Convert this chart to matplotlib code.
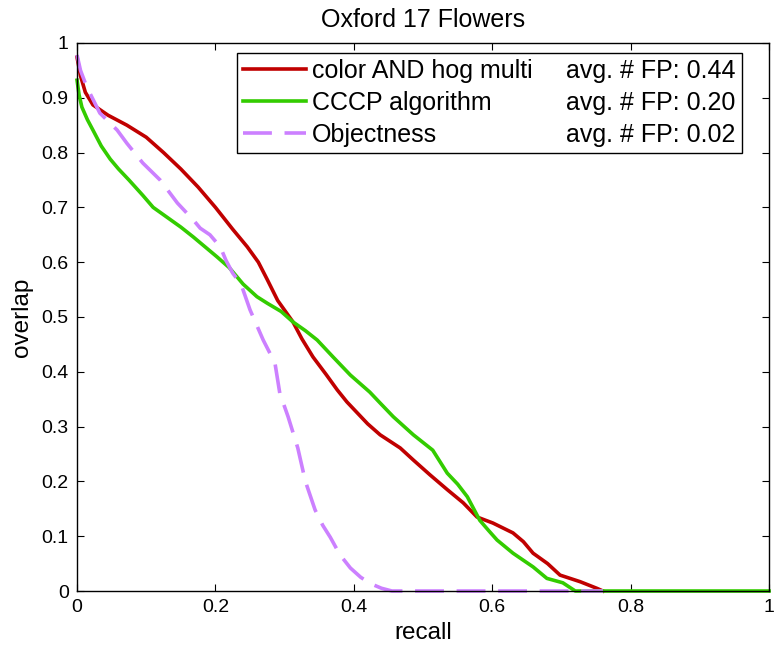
import matplotlib
matplotlib.use("Agg")
import matplotlib.pyplot as plt
from matplotlib.lines import Line2D
from matplotlib.ticker import FormatStrFormatter

plt.rcParams["font.family"] = ["Liberation Sans", "DejaVu Sans"]

# ── data ─────────────────────────────────────────────────────
red_x = [0, 0.005, 0.012, 0.023, 0.045, 0.072, 0.1, 0.125, 0.15, 0.175,
         0.2, 0.225, 0.246, 0.262, 0.275, 0.29, 0.312, 0.325,
         0.341, 0.36, 0.376, 0.39, 0.405, 0.42, 0.438, 0.467, 0.486, 0.51,
         0.535, 0.558, 0.578, 0.601, 0.63, 0.645, 0.659, 0.68, 0.698, 0.727,
         0.751, 0.76]
red_y = [0.974, 0.94, 0.91, 0.887, 0.868, 0.85, 0.828, 0.8, 0.77, 0.737,
         0.70, 0.66, 0.628, 0.6, 0.568, 0.53, 0.491, 0.46,
         0.427, 0.395, 0.367, 0.345, 0.325, 0.305, 0.285, 0.261, 0.239, 0.212,
         0.185, 0.161, 0.135, 0.124, 0.106, 0.09, 0.069, 0.05, 0.029, 0.017,
         0.005, 0.0]

green_x = [0, 0.003, 0.007, 0.015, 0.023, 0.035, 0.048, 0.06, 0.075, 0.095,
           0.11, 0.13, 0.15, 0.168, 0.185, 0.202, 0.22, 0.24, 0.26, 0.275,
           0.295, 0.312, 0.33, 0.347, 0.37, 0.395, 0.423, 0.438, 0.457, 0.486,
           0.514, 0.535, 0.55, 0.564, 0.582, 0.595, 0.607, 0.63, 0.659, 0.679,
           0.702, 0.72, 1.0]
green_y = [0.932, 0.905, 0.883, 0.86, 0.841, 0.812, 0.788, 0.77, 0.75, 0.722,
           0.70, 0.682, 0.664, 0.646, 0.628, 0.61, 0.59, 0.56, 0.537, 0.525,
           0.51, 0.491, 0.475, 0.458, 0.427, 0.394, 0.363, 0.343, 0.318, 0.285,
           0.257, 0.215, 0.195, 0.172, 0.129, 0.11, 0.093, 0.069, 0.044, 0.023,
           0.015, 0.0, 0.0]

purple_x = [0, 0.005, 0.014, 0.033, 0.058, 0.072, 0.095, 0.12, 0.145, 0.168,
            0.178, 0.192, 0.207, 0.215, 0.225, 0.237, 0.25, 0.269, 0.286,
            0.293, 0.305, 0.319, 0.33, 0.344, 0.355, 0.366, 0.38, 0.395,
            0.41, 0.425, 0.44, 0.455, 0.76]
purple_y = [0.978, 0.95, 0.92, 0.872, 0.841, 0.817, 0.781, 0.75, 0.708, 0.677,
            0.662, 0.65, 0.628, 0.604, 0.58, 0.56, 0.513, 0.458, 0.416,
            0.361, 0.318, 0.261, 0.2, 0.148, 0.12, 0.098, 0.066, 0.042,
            0.025, 0.013, 0.005, 0.0, 0.0]

names = ["color AND hog multi", "CCCP algorithm", "Objectness"]
fp_labels = ["avg. # FP: 0.44", "avg. # FP: 0.20", "avg. # FP: 0.02"]
colors = ["#C00000", "#33CC00", "#CC80FF"]

# ── figure ───────────────────────────────────────────────────
fig = plt.figure(figsize=(7.75, 6.55), dpi=100)
ax = fig.add_axes([0.0994, 0.0977, 0.8929, 0.8367])

lw = 2.6
l1, = ax.plot(red_x, red_y, color=colors[0], lw=lw, clip_on=False)
l2, = ax.plot(green_x, green_y, color=colors[1], lw=lw, clip_on=False)
l3, = ax.plot(purple_x, purple_y, color=colors[2], lw=lw, clip_on=False,
              linestyle=(0, (8, 3.5)))

ax.set_xlim(0, 1)
ax.set_ylim(0, 1)
ax.set_xticks([0, 0.2, 0.4, 0.6, 0.8, 1])
ax.set_yticks([i / 10 for i in range(11)])
ax.xaxis.set_major_formatter(FormatStrFormatter("%g"))
ax.yaxis.set_major_formatter(FormatStrFormatter("%g"))
ax.tick_params(direction="in", length=5, width=0.8, labelsize=14,
               top=True, right=True, pad=6)
for sp in ax.spines.values():
    sp.set_linewidth(1.0)

ax.set_xlabel("recall", fontsize=17.5, labelpad=4)
ax.set_ylabel("overlap", fontsize=17.5, labelpad=6)
ax.set_title("Oxford 17 Flowers", fontsize=18, pad=11.5)

# legend: two columns, second column holds the FP text with no line
blank = Line2D([], [], linestyle="none")
leg = ax.legend([l1, l2, l3, blank, blank, blank], names + fp_labels,
                ncol=2, loc="upper right", bbox_to_anchor=(0.961, 0.982),
                borderaxespad=0, fontsize=18, handlelength=2.5,
                handletextpad=0.25, columnspacing=-1.4, labelspacing=0.32,
                fancybox=False, framealpha=1, edgecolor="black",
                borderpad=0.25)
leg.get_frame().set_linewidth(1.0)

fig.savefig("out.png", dpi=100)
